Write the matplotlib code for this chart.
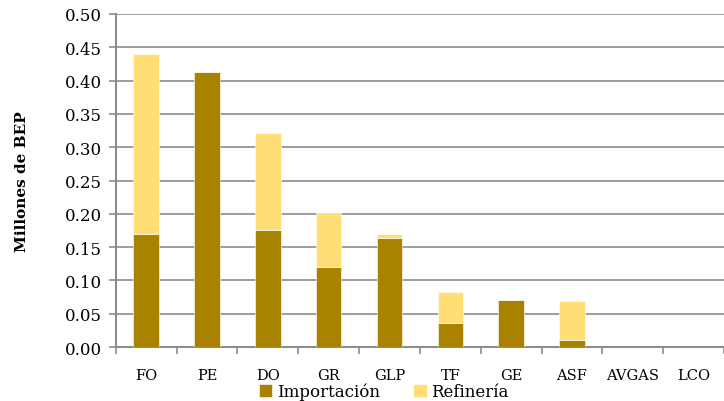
import numpy as np
import matplotlib.pyplot as plt

# Datos
categorias = ["FO", "PE", "DO", "GR", "GLP", "TF", "GE", "ASF", "AVGAS", "LCO"]
importacion = [0.169, 0.413, 0.175, 0.120, 0.164, 0.036, 0.070, 0.011, 0.0, 0.0]
refineria = [0.271, 0.0, 0.146, 0.081, 0.006, 0.046, 0.0, 0.058, 0.0, 0.0]

plt.rcParams["font.family"] = ["DejaVu Serif"]

fig = plt.figure(figsize=(7.24, 4.02), dpi=100)
ax = fig.add_axes([0.160, 0.134, 0.840, 0.829])

x = np.arange(len(categorias))
c_imp = "#a88200"
c_ref = "#ffde75"

ax.bar(x, importacion, width=0.42, color=c_imp, edgecolor="white", linewidth=0.4,
       label="Importación", zorder=3)
ax.bar(x, refineria, width=0.42, bottom=importacion, color=c_ref, edgecolor="white",
       linewidth=0.4, label="Refinería", zorder=3)

ax.set_xlim(-0.5, len(categorias) - 0.5)
ax.set_ylim(0, 0.5)
ax.set_yticks(np.arange(0, 0.51, 0.05))
ax.set_yticklabels([f"{v:.2f}" for v in np.arange(0, 0.51, 0.05)], fontsize=12)
ax.yaxis.grid(True, color="#8c8c8c", linewidth=1.2, zorder=0)

ax.set_xticks(x)
ax.set_xticklabels(categorias, fontsize=10.5)
ax.set_xticks(np.arange(-0.5, len(categorias)), minor=True)
ax.tick_params(axis="x", which="major", length=0, pad=15)
ax.tick_params(axis="x", which="minor", length=5, color="#8c8c8c", width=1.2)
ax.tick_params(axis="y", length=5, color="#8c8c8c", width=1.2, pad=5)

for s in ["top", "right"]:
    ax.spines[s].set_visible(False)
for s in ["left", "bottom"]:
    ax.spines[s].set_color("#8c8c8c")
    ax.spines[s].set_linewidth(1.5)

ax.set_ylabel("Millones de BEP", fontsize=11, fontweight="bold", labelpad=26)

fig.legend(loc="lower center", bbox_to_anchor=(0.53, -0.035), ncol=2, frameon=False,
           fontsize=12, handlelength=0.8, handleheight=0.8, handletextpad=0.3,
           columnspacing=2.0)

fig.savefig("out.png", dpi=100)
